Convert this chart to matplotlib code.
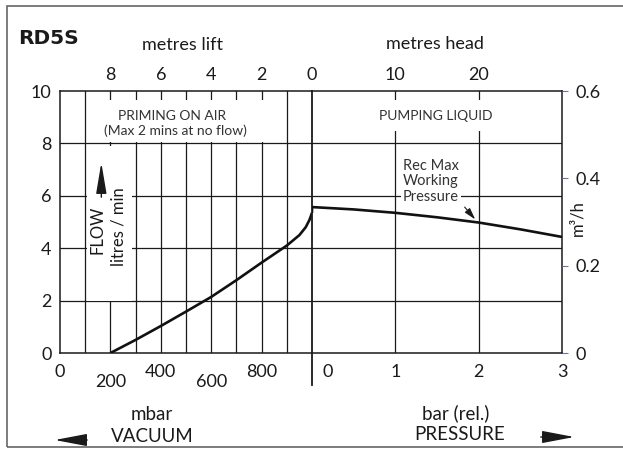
import matplotlib
matplotlib.use("Agg")
import matplotlib.pyplot as plt
from matplotlib.patches import Rectangle

plt.rcParams['font.family'] = ['Lato', 'DejaVu Sans']

W, H = 623, 449
INK = '#1a1a1a'

# vacuum side (mbar) and pressure side (bar rel.)
VAC_GRID = [100, 200, 300, 400, 500, 600, 700, 800, 900]
PR_GRID = [1, 2]
FLOW_GRID = [2, 4, 6, 8]
FLOW_TICKS = [0, 2, 4, 6, 8, 10]
VAC_TICKS_HI = [0, 400, 800]
VAC_TICKS_LO = [200, 600]
PR_TICKS = [1, 2, 3]
LIFT_TICKS = [8, 6, 4, 2, 0]
HEAD_TICKS = [10, 20]
M3H_TICKS = [0, 0.2, 0.4, 0.6]
M3H_LABELS = ['0', '0.2', '0.4', '0.6']

# curve
VAC_MBAR = [200, 300, 400, 500, 600, 700, 800, 900, 950, 975, 990, 1000]
VAC_FLOW = [0.0, 0.5, 1.03, 1.58, 2.14, 2.78, 3.45, 4.1, 4.5, 4.8, 5.08, 5.35]
PR_BAR = [0, 0, 0.5, 1, 1.5, 2, 2.5, 3]
PR_FLOW = [5.35, 5.57, 5.48, 5.35, 5.18, 4.98, 4.72, 4.43]


def fx(x):
    return x / W


def fy(y):
    return 1 - y / H


fig = plt.figure(figsize=(W / 100, H / 100), dpi=100)

top, bottom = 91, 353
ax_v = fig.add_axes([fx(60), fy(bottom), (312 - 60) / W, (bottom - top) / H])
ax_p = fig.add_axes([fx(312), fy(bottom), (562 - 312) / W, (bottom - top) / H])

ax_v.set_xlim(0, 1000)
ax_p.set_xlim(0, 3)
for ax in (ax_v, ax_p):
    ax.set_ylim(0, 10)
    for s in ax.spines.values():
        s.set_linewidth(1.1)
        s.set_color(INK)
ax_v.spines['right'].set_visible(False)
ax_p.spines['left'].set_visible(False)

# grid
for m in VAC_GRID:
    ax_v.axvline(m, color=INK, lw=0.9, zorder=1)
for b in PR_GRID:
    ax_p.axvline(b, color=INK, lw=0.9, zorder=1)
for f in FLOW_GRID:
    ax_v.axhline(f, color=INK, lw=0.9, zorder=1)
    ax_p.axhline(f, color=INK, lw=0.9, zorder=1)

# divider between vacuum and pressure, runs below the axis
ax_p.axvline(0, ymin=-(385 - bottom) / (bottom - top), ymax=1, clip_on=False,
             color=INK, lw=1.3, zorder=5)

# white patches where the labels sit over the grid
ax_v.add_patch(Rectangle((0.12, 0.805), 0.71, 0.16, transform=ax_v.transAxes,
                         facecolor='white', edgecolor='none', zorder=2))
ax_v.add_patch(Rectangle((0.107, 0.2), 0.18, 0.59, transform=ax_v.transAxes,
                         facecolor='white', edgecolor='none', zorder=2))
ax_p.add_patch(Rectangle((0.23, 0.847), 0.52, 0.119, transform=ax_p.transAxes,
                         facecolor='white', edgecolor='none', zorder=2))

# curves
ax_v.plot(VAC_MBAR, VAC_FLOW, color='#111111', lw=1.9, zorder=6, solid_capstyle='butt')
ax_p.plot(PR_BAR, PR_FLOW, color='#111111', lw=1.9, zorder=6, solid_capstyle='butt')

# left axis
ax_v.set_yticks(FLOW_TICKS)
ax_v.tick_params(axis='y', length=0, pad=6, labelsize=13, labelcolor=INK)
ax_p.set_yticks([])

# bottom vacuum ticks, staggered
ax_v.set_xticks(VAC_TICKS_HI)
ax_v.set_xticklabels([str(v) for v in VAC_TICKS_HI])
ax_v.set_xticks(VAC_TICKS_LO, minor=True)
ax_v.set_xticklabels([str(v) for v in VAC_TICKS_LO], minor=True)
ax_v.tick_params(axis='x', which='major', length=0, pad=8, labelsize=13, labelcolor=INK)
ax_v.tick_params(axis='x', which='minor', length=0, pad=15, labelsize=13, labelcolor=INK)

# bottom pressure ticks
ax_p.set_xticks(PR_TICKS)
ax_p.set_xticklabels([str(v) for v in PR_TICKS])
ax_p.tick_params(axis='x', length=0, pad=8, labelsize=13, labelcolor=INK)
ax_p.annotate('0', xy=(0, 0), xycoords=('data', 'axes fraction'), xytext=(11, -8),
              textcoords='offset points', ha='center', va='top', fontsize=13, color=INK)

# top axes: metres lift / metres head
lift = ax_v.secondary_xaxis('top', functions=(lambda m: (1000 - m) / 100,
                                              lambda l: 1000 - 100 * l))
lift.set_xticks(LIFT_TICKS)
lift.set_xticklabels([str(v) for v in LIFT_TICKS])
lift.tick_params(length=0, pad=6, labelsize=13, labelcolor=INK)
lift.spines['top'].set_visible(False)

head = ax_p.secondary_xaxis('top', functions=(lambda b: b * 10, lambda h: h / 10))
head.set_xticks(HEAD_TICKS)
head.set_xticklabels([str(v) for v in HEAD_TICKS])
head.tick_params(length=0, pad=6, labelsize=13, labelcolor=INK)
head.spines['top'].set_visible(False)

# right axis m3/h
ax_r = ax_p.twinx()
ax_r.set_ylim(0, 0.6)
ax_r.set_yticks(M3H_TICKS)
ax_r.set_yticklabels(M3H_LABELS)
ax_r.tick_params(axis='y', direction='out', length=4.5, width=0.8, color='#6a78a8',
                 pad=5, labelsize=13, labelcolor=INK)
for s in ax_r.spines.values():
    s.set_visible(False)

# text
fig.text(fx(18), fy(38), 'RD5S', family='DejaVu Sans', weight='bold', fontsize=14.5,
         ha='left', va='center', color=INK)
fig.text(fx(183), fy(45), 'metres lift', fontsize=13, ha='center', va='center', color=INK)
fig.text(fx(435), fy(44), 'metres head', fontsize=13, ha='center', va='center', color=INK)

fig.text(fx(172), fy(116), 'PRIMING ON AIR', fontsize=10, ha='center', va='center',
         color='#333333', zorder=7)
fig.text(fx(175), fy(131), '(Max 2 mins at no flow)', fontsize=10, ha='center', va='center',
         color='#333333', zorder=7)
fig.text(fx(436), fy(116), 'PUMPING LIQUID', fontsize=10, ha='center', va='center',
         color='#333333', zorder=7)

ax_p.text(1.09, 6.55, 'Rec Max\nWorking\nPressure', fontsize=10.5, ha='left', va='center',
          linespacing=1.15, color='#333333', zorder=7,
          bbox=dict(boxstyle='square,pad=0.15', facecolor='white', edgecolor='none'))
ax_p.annotate('', xy=(1.98, 5.02), xytext=(1.81, 5.65),
              arrowprops=dict(arrowstyle='-|>,head_length=0.7,head_width=0.2',
                              mutation_scale=10, color=INK, lw=0.8), zorder=7)

fig.text(fx(98), fy(230), 'FLOW', fontsize=12, rotation=90, ha='center', va='center',
         color=INK, zorder=7)
fig.text(fx(118), fy(227), 'litres / min', fontsize=12, rotation=90, ha='center',
         va='center', color=INK, zorder=7)
ax_v.annotate('', xy=(164, 7.37), xytext=(164, 5.84),
              arrowprops=dict(arrowstyle='-|>,head_length=1.9,head_width=0.32',
                              mutation_scale=10, color=INK, lw=1), zorder=7)

fig.text(fx(577), fy(218), 'm³/h', fontsize=12, rotation=90, ha='center', va='center',
         color=INK)

fig.text(fx(152), fy(415), 'mbar', fontsize=13.5, ha='center', va='center', color=INK)
fig.text(fx(152), fy(437), 'VACUUM', fontsize=13.5, ha='center', va='center', color=INK)
fig.text(fx(456), fy(413), 'bar (rel.)', fontsize=13.5, ha='center', va='center', color=INK)
fig.text(fx(460), fy(435), 'PRESSURE', fontsize=13.5, ha='center', va='center', color=INK)

arrow_style = dict(arrowstyle='-|>,head_length=2.0,head_width=0.38', mutation_scale=10,
                   color=INK, lw=1)
fig.add_artist(plt.Annotation('', xy=(fx(52), fy(440)), xycoords='figure fraction',
                              xytext=(fx(90), fy(440)), textcoords='figure fraction',
                              arrowprops=arrow_style))
fig.add_artist(plt.Annotation('', xy=(fx(577), fy(437)), xycoords='figure fraction',
                              xytext=(fx(538), fy(437)), textcoords='figure fraction',
                              arrowprops=arrow_style))

# scan frame
fig.add_artist(Rectangle((fx(7), fy(447)), 1, fy(6) - fy(447), transform=fig.transFigure,
                         facecolor='none', edgecolor='#666666', lw=1.2))

fig.savefig('out.png', dpi=100)
